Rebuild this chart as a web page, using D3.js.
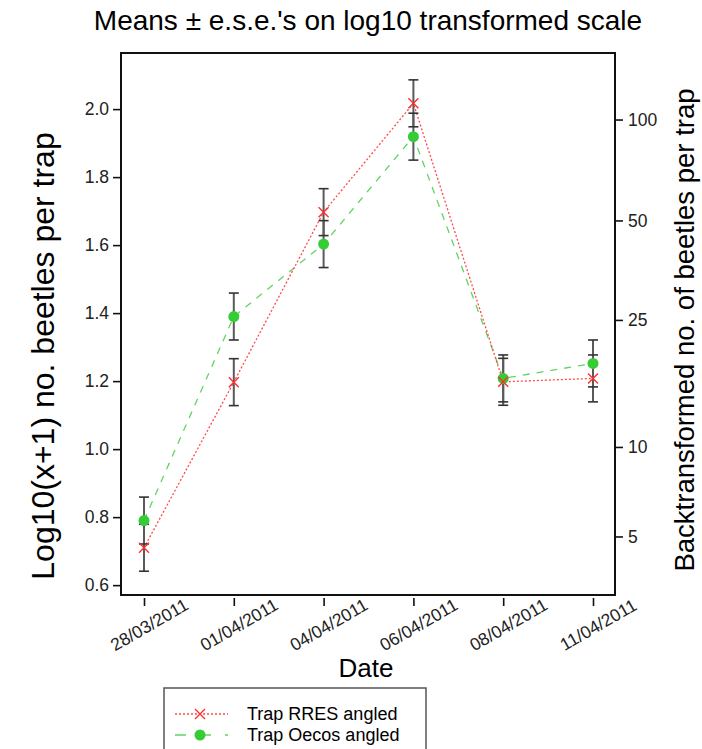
<!DOCTYPE html>
<html>
<head>
<meta charset="utf-8">
<script src="https://cdn.jsdelivr.net/npm/d3@7"></script>
<style>
  body { margin: 0; background: #fff; }
  svg { display: block; font-family: 'Liberation Sans', Arial, sans-serif; }
</style>
</head>
<body>
<svg></svg>
<script>
'use strict';

const svgWidth = 702;
const svgHeight = 749;

// data (log10(x+1) scale)
const dates = ['28/03/2011', '01/04/2011', '04/04/2011', '06/04/2011', '08/04/2011', '11/04/2011'];
const rresMeans = [0.71, 1.197, 1.697, 2.017, 1.198, 1.208];
const oecosMeans = [0.79, 1.39, 1.603, 1.919, 1.208, 1.252];
const ese = 0.069;
const leftTicks = [0.6, 0.8, 1.0, 1.2, 1.4, 1.6, 1.8, 2.0];
const rightTicks = [5, 10, 25, 50, 100];
const seriesNames = ['Trap RRES angled', 'Trap Oecos angled'];

const box = { left: 121, right: 615, top: 53, bottom: 595 };

const svg = d3.select('svg')
  .attr('width', svgWidth)
  .attr('height', svgHeight);

const x = d3.scalePoint()
  .domain(dates)
  .range([144, 593]);

const y = d3.scaleLinear()
  .domain([0.571, 2.165])
  .range([box.bottom, box.top]);

// right axis sits a little lower than log10(n+1) on the left scale
const yRight = d3.scaleLinear()
  .domain([0.571 + 0.035, 2.165 + 0.035])
  .range([box.bottom, box.top]);

// title
svg.append('text')
  .attr('x', 368)
  .attr('y', 30)
  .attr('text-anchor', 'middle')
  .attr('font-size', 28)
  .text('Means \u00b1 e.s.e.\'s on log10 transformed scale');

// left axis
const leftAxis = svg.append('g')
  .attr('transform', `translate(${box.left},0)`)
  .call(d3.axisLeft(y).tickValues(leftTicks).tickSize(8).tickPadding(4)
    .tickFormat(d3.format('.1f')));
leftAxis.select('.domain').remove();
leftAxis.selectAll('line').attr('stroke', '#111').attr('stroke-width', 1.6);
leftAxis.selectAll('text').attr('font-size', 17.5).attr('fill', '#222')
  .attr('font-family', 'Liberation Sans, Arial, sans-serif');

// right axis
const rightAxis = svg.append('g')
  .attr('transform', `translate(${box.right},0)`)
  .call(d3.axisRight(yRight).tickValues(rightTicks.map(n => Math.log10(n + 1)))
    .tickSize(8).tickPadding(5)
    .tickFormat((d, i) => rightTicks[i]));
rightAxis.select('.domain').remove();
rightAxis.selectAll('line').attr('stroke', '#111').attr('stroke-width', 1.6);
rightAxis.selectAll('text').attr('font-size', 17.5).attr('fill', '#222')
  .attr('font-family', 'Liberation Sans, Arial, sans-serif');

// bottom ticks, drawn slightly below the frame
const bottomAxis = svg.append('g')
  .attr('transform', `translate(0,${box.bottom + 3})`)
  .call(d3.axisBottom(x).tickSize(8).tickFormat(''));
bottomAxis.select('.domain').remove();
bottomAxis.selectAll('line').attr('stroke', '#111').attr('stroke-width', 1.6);

svg.append('g')
  .selectAll('text')
  .data(dates)
  .join('text')
  .attr('transform', d => `translate(${x(d) + 6},${box.bottom + 31}) rotate(-30)`)
  .attr('text-anchor', 'middle')
  .attr('dominant-baseline', 'middle')
  .attr('font-size', 17.5)
  .attr('fill', '#222')
  .text(d => d);

// axis titles
svg.append('text')
  .attr('x', 366)
  .attr('y', 677)
  .attr('text-anchor', 'middle')
  .attr('font-size', 26)
  .text('Date');

svg.append('text')
  .attr('transform', 'translate(54,356) rotate(-90)')
  .attr('text-anchor', 'middle')
  .attr('font-size', 32)
  .text('Log10(x+1) no. beetles per trap');

svg.append('text')
  .attr('transform', 'translate(694,330) rotate(-90)')
  .attr('text-anchor', 'middle')
  .attr('font-size', 27.5)
  .text('Backtransformed no. of beetles per trap');

// plot frame
svg.append('rect')
  .attr('x', box.left)
  .attr('y', box.top)
  .attr('width', box.right - box.left)
  .attr('height', box.bottom - box.top)
  .attr('fill', 'none')
  .attr('stroke', '#111')
  .attr('stroke-width', 2);

const line = d3.line()
  .x((d, i) => x(dates[i]))
  .y(d => y(d));

svg.append('path')
  .attr('d', line(oecosMeans))
  .attr('fill', 'none')
  .attr('stroke', '#62d462')
  .attr('stroke-width', 1.3)
  .attr('stroke-dasharray', '7,7');

svg.append('path')
  .attr('d', line(rresMeans))
  .attr('fill', 'none')
  .attr('stroke', '#ff4a4a')
  .attr('stroke-width', 1.3)
  .attr('stroke-dasharray', '2,2');

// error bars (mean +/- e.s.e.)
const bars = dates.flatMap((d, i) => [
  { date: d, v: rresMeans[i] },
  { date: d, v: oecosMeans[i] }
]);

const barG = svg.append('g')
  .attr('stroke', '#333');

barG.selectAll('line.v')
  .data(bars)
  .join('line')
  .attr('class', 'v')
  .attr('x1', d => x(d.date))
  .attr('x2', d => x(d.date))
  .attr('y1', d => y(d.v - ese))
  .attr('y2', d => y(d.v + ese))
  .attr('stroke', '#5a5a5a')
  .attr('stroke-width', 2);

barG.selectAll('line.cap')
  .data(bars.flatMap(d => [d.v - ese, d.v + ese].map(v => ({ date: d.date, v }))))
  .join('line')
  .attr('class', 'cap')
  .attr('x1', d => x(d.date) - 5)
  .attr('x2', d => x(d.date) + 5)
  .attr('y1', d => y(d.v))
  .attr('y2', d => y(d.v))
  .attr('stroke-width', 1.6);

// markers
svg.append('g')
  .selectAll('circle')
  .data(oecosMeans)
  .join('circle')
  .attr('cx', (d, i) => x(dates[i]))
  .attr('cy', d => y(d))
  .attr('r', 5.5)
  .attr('fill', '#35cc35');

const cross = 5;
svg.append('g')
  .selectAll('path')
  .data(rresMeans)
  .join('path')
  .attr('d', (d, i) => {
    const cx = x(dates[i]);
    const cy = y(d);
    return `M${cx - cross},${cy - cross}L${cx + cross},${cy + cross}` +
      `M${cx - cross},${cy + cross}L${cx + cross},${cy - cross}`;
  })
  .attr('stroke', '#ff3030')
  .attr('stroke-width', 1.4);

// legend
const legendG = svg.append('g')
  .attr('transform', 'translate(164,688)');

legendG.append('rect')
  .attr('width', 262)
  .attr('height', 70)
  .attr('fill', '#fff')
  .attr('stroke', '#555')
  .attr('stroke-width', 1.5);

const legendRows = legendG.selectAll('g')
  .data(seriesNames)
  .join('g')
  .attr('transform', (d, i) => `translate(0,${26 + i * 21})`);

legendRows.append('line')
  .attr('x1', 11)
  .attr('x2', 64)
  .attr('stroke', (d, i) => i === 0 ? '#ff4a4a' : '#62d462')
  .attr('stroke-width', 1.3)
  .attr('stroke-dasharray', (d, i) => i === 0 ? '2,2' : '11,14');

legendRows.filter((d, i) => i === 0)
  .append('path')
  .attr('d', `M${36 - cross},${-cross}L${36 + cross},${cross}M${36 - cross},${cross}L${36 + cross},${-cross}`)
  .attr('stroke', '#ff3030')
  .attr('stroke-width', 1.4);

legendRows.filter((d, i) => i === 1)
  .append('circle')
  .attr('cx', 36)
  .attr('r', 5.5)
  .attr('fill', '#35cc35');

legendRows.append('text')
  .attr('x', 83)
  .attr('dy', '0.35em')
  .attr('font-size', 18)
  .text(d => d);
</script>
</body>
</html>
